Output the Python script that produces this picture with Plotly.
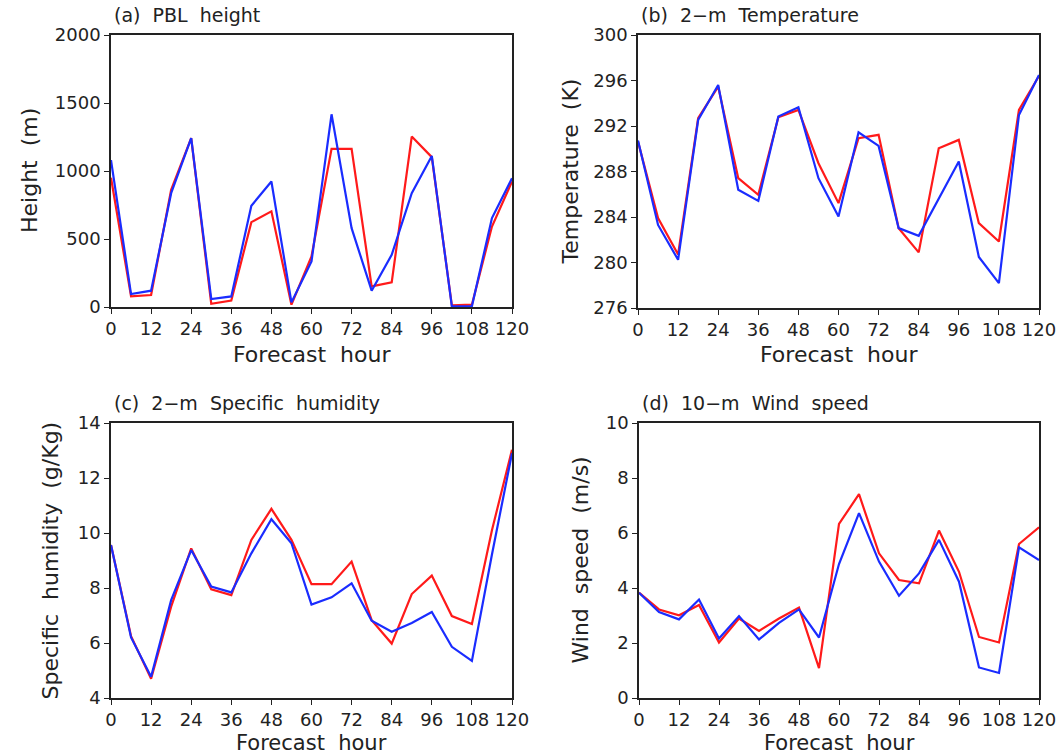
import plotly.graph_objects as go

hours = [0, 6, 12, 18, 24, 30, 36, 42, 48, 54, 60, 66, 72, 78, 84, 90, 96, 102, 108, 114, 120]

pbl_red = [950, 78, 88, 862, 1241, 24, 47, 624, 703, 17, 372, 1163, 1163, 152, 181, 1253, 1102, 12, 17, 592, 923]
pbl_blue = [1080, 95, 120, 837, 1241, 59, 78, 744, 923, 34, 335, 1417, 580, 120, 384, 837, 1111, 5, 5, 654, 947]

t2_red = [290.63, 283.9, 280.7, 292.68, 295.46, 287.41, 285.95, 292.77, 293.41, 288.73, 285.22, 290.93, 291.22, 283.02, 280.89, 290.05, 290.78, 283.46, 281.85, 293.41, 296.4]
t2_blue = [290.72, 283.3, 280.24, 292.53, 295.6, 286.39, 285.42, 292.83, 293.65, 287.41, 284.05, 291.45, 290.25, 283.02, 282.35, 285.66, 288.88, 280.48, 278.19, 292.97, 296.49]

q2_red = [9.56, 6.25, 4.7, 7.32, 9.44, 7.95, 7.74, 9.75, 10.88, 9.75, 8.14, 8.14, 8.96, 6.83, 5.98, 7.78, 8.45, 6.98, 6.69, 10.1, 13.03]
q2_blue = [9.56, 6.2, 4.77, 7.56, 9.38, 8.05, 7.84, 9.26, 10.5, 9.63, 7.4, 7.66, 8.17, 6.81, 6.41, 6.73, 7.13, 5.86, 5.35, 9.22, 12.9]

ws_red = [3.83, 3.22, 3.01, 3.38, 2.02, 2.89, 2.44, 2.89, 3.29, 1.09, 6.33, 7.41, 5.26, 4.29, 4.17, 6.09, 4.59, 2.22, 2.02, 5.6, 6.21]
ws_blue = [3.83, 3.13, 2.86, 3.58, 2.16, 2.98, 2.13, 2.73, 3.22, 2.2, 4.87, 6.72, 4.96, 3.72, 4.53, 5.75, 4.23, 1.11, 0.91, 5.48, 5.02]

x_ticks = [0, 12, 24, 36, 48, 60, 72, 84, 96, 108, 120]

panels = [
    dict(title="(a)  PBL  height", ytitle="Height  (m)", red=pbl_red, blue=pbl_blue,
         yrange=[0, 2000], yticks=[0, 500, 1000, 1500, 2000]),
    dict(title="(b)  2\u2212m  Temperature", ytitle="Temperature  (K)", red=t2_red, blue=t2_blue,
         yrange=[276, 300], yticks=[276, 280, 284, 288, 292, 296, 300]),
    dict(title="(c)  2\u2212m  Specific  humidity", ytitle="Specific  humidity  (g/Kg)", red=q2_red, blue=q2_blue,
         yrange=[4, 14], yticks=[4, 6, 8, 10, 12, 14]),
    dict(title="(d)  10\u2212m  Wind  speed", ytitle="Wind  speed  (m/s)", red=ws_red, blue=ws_blue,
         yrange=[0, 10], yticks=[0, 2, 4, 6, 8, 10]),
]

W, H = 1062, 756
# plot-area pixel boxes (left, right, top, bottom)
boxes = [(111, 512, 35, 307), (638, 1039, 35, 308), (111, 512, 423, 698), (639, 1039, 423, 698)]
ytitle_x = [30, 570, 50, 580]
xtitle_off = [47, 47, 45, 45]
xtitle_size = [22, 22, 21, 21]

FONT = "DejaVu Sans"
TXT = "#222222"
RED = "#ff1a1a"
BLUE = "#1a2cff"

fig = go.Figure()
layout = dict(width=W, height=H, margin=dict(l=0, r=0, t=0, b=0, autoexpand=False),
              paper_bgcolor="white", plot_bgcolor="white", showlegend=False,
              font=dict(family=FONT, size=18, color=TXT))
annotations = []

for i, (p, b) in enumerate(zip(panels, boxes)):
    n = "" if i == 0 else str(i + 1)
    l, r, t, bt = b
    xd = [l / W, r / W]
    yd = [1 - bt / H, 1 - t / H]
    common = dict(ticks="outside", ticklen=5, tickwidth=1.2, tickcolor="#222", showline=True,
                  linecolor="#222", linewidth=1.5, mirror=True, showgrid=False,
                  zeroline=False, automargin=False,
                  tickfont=dict(family=FONT, size=18, color=TXT))
    layout["xaxis" + n] = dict(domain=xd, range=[0, 120], tickvals=x_ticks,
                               anchor="y" + n, **common)
    layout["yaxis" + n] = dict(domain=yd, range=p["yrange"], tickvals=p["yticks"],
                               anchor="x" + n, **common)
    xa = "x" + n
    ya = "y" + n
    fig.add_trace(go.Scatter(x=hours, y=p["red"], mode="lines", line=dict(color=RED, width=2.2),
                             xaxis=xa, yaxis=ya, name="Run A"))
    fig.add_trace(go.Scatter(x=hours, y=p["blue"], mode="lines", line=dict(color=BLUE, width=2.2),
                             xaxis=xa, yaxis=ya, name="Run B"))
    # panel title
    annotations.append(dict(text=p["title"], x=(l + 1) / W, y=1 - (t - 20) / H, xref="paper", yref="paper",
                            xanchor="left", yanchor="middle", showarrow=False,
                            font=dict(family=FONT, size=19, color=TXT)))
    # x-axis title
    annotations.append(dict(text="Forecast  hour", x=(l + r) / 2 / W, y=1 - (bt + xtitle_off[i]) / H,
                            xref="paper", yref="paper", xanchor="center", yanchor="middle",
                            showarrow=False, font=dict(family=FONT, size=xtitle_size[i], color=TXT)))
    # y-axis title
    annotations.append(dict(text=p["ytitle"], x=ytitle_x[i] / W, y=1 - (t + bt) / 2 / H,
                            xref="paper", yref="paper", xanchor="center", yanchor="middle",
                            textangle=-90, showarrow=False,
                            font=dict(family=FONT, size=22, color=TXT)))

layout["annotations"] = annotations
fig.update_layout(**layout)
fig.write_html("out.html")
